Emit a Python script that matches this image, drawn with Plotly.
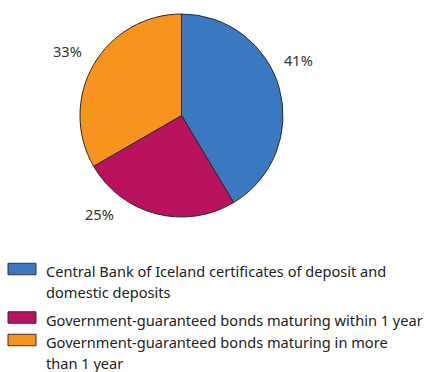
import plotly.graph_objects as go

labels = [
    "Central Bank of Iceland certificates of deposit and<br>domestic deposits",
    "Government-guaranteed bonds maturing within 1 year",
    "Government-guaranteed bonds maturing in more<br>than 1 year",
]
values = [41, 25, 33]
pct_text = ["41%", "25%", "33%"]
colors = ["#3b78c2", "#b8135c", "#f7941e"]

W, H = 425, 372
FONT = "Noto Sans"
FS = 14.6

# percentage label centres (pixels) as placed in the original figure
label_px = [(298, 60), (99, 214), (67, 51)]
# legend layout (pixels): key vertical centres, text line spacing
legend_key_cy = [269, 317.5, 340]
line_step = 21
key_x = (8, 36)
key_h = 11.5
text_x = 44

def px(x):
    return x / W

def py(y):
    return 1 - y / H

fig = go.Figure()
fig.add_trace(go.Pie(
    labels=[l.replace("<br>", " ") for l in labels],
    values=values,
    sort=False,
    direction="clockwise",
    rotation=0,
    textinfo="none",
    hoverinfo="label+percent",
    showlegend=False,
    marker=dict(colors=colors, line=dict(color="#2a2a2a", width=1)),
    domain=dict(x=[px(80), px(283)], y=[py(217), py(14)]),
))

for t, (x, y) in zip(pct_text, label_px):
    fig.add_annotation(x=px(x), y=py(y), xref="paper", yref="paper", text=t,
                       xanchor="center", yanchor="middle", showarrow=False,
                       font=dict(size=FS, color="#333333", family=FONT))

# legend drawn as keys + text lines
for lab, col, cy in zip(labels, colors, legend_key_cy):
    fig.add_shape(type="rect", xref="paper", yref="paper",
                  x0=px(key_x[0]), x1=px(key_x[1]),
                  y0=py(cy + key_h / 2), y1=py(cy - key_h / 2),
                  fillcolor=col, line=dict(color="#333333", width=1))
    for i, line in enumerate(lab.split("<br>")):
        fig.add_annotation(x=px(text_x), y=py(cy + 2 + i * line_step),
                           xref="paper", yref="paper", text=line,
                           xanchor="left", yanchor="middle", showarrow=False,
                           font=dict(size=FS, color="#222222", family=FONT))

fig.update_layout(
    width=W, height=H,
    margin=dict(l=0, r=0, t=0, b=0),
    paper_bgcolor="white",
    plot_bgcolor="white",
    font=dict(family=FONT, size=FS, color="#222222"),
    showlegend=False,
)

fig.write_html("out.html")
